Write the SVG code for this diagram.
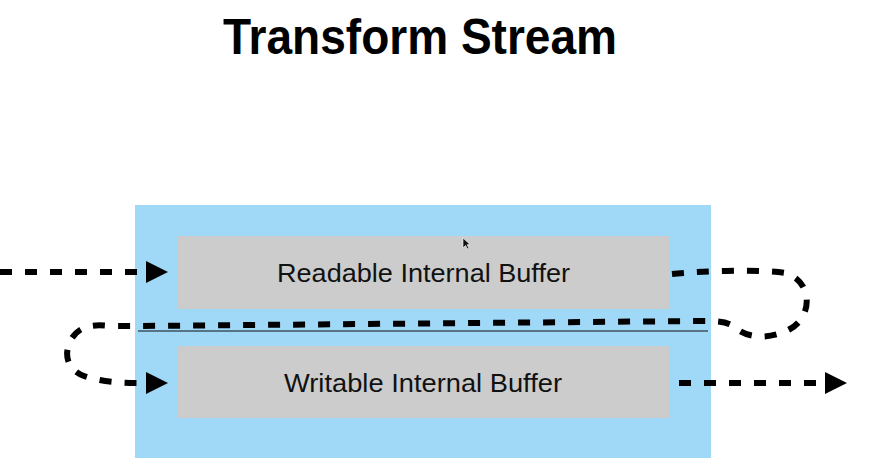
<svg xmlns="http://www.w3.org/2000/svg" width="876" height="472" viewBox="0 0 876 472">
<defs>
<style>
.title{font-family:"Liberation Sans",Arial,sans-serif;font-weight:bold;font-size:50px;fill:#000}
.lbl{font-family:"Liberation Sans",Arial,sans-serif;font-size:26px;fill:#111}
.buf{fill:#cccccc}
.dash{fill:none;stroke:#000;stroke-width:6;stroke-dasharray:12 13}
</style>
</defs>
<rect width="876" height="472" fill="#fff"/>
<text class="title" x="223" y="54" textLength="394" lengthAdjust="spacingAndGlyphs">Transform Stream</text>
<g id="transform">
<rect x="135" y="205" width="576" height="253" fill="#a0d8f8"/>
<line x1="138" y1="331" x2="708" y2="331" stroke="#111" stroke-width="1.2"/>
</g>
<g id="readable">
<rect class="buf" x="178" y="236" width="491" height="73"/>
<text class="lbl" x="277" y="282" textLength="293" lengthAdjust="spacingAndGlyphs">Readable Internal Buffer</text>
</g>
<g id="writable">
<rect class="buf" x="178" y="346" width="491" height="72"/>
<text class="lbl" x="284" y="392" textLength="278" lengthAdjust="spacingAndGlyphs">Writable Internal Buffer</text>
</g>
<g id="connectors">
<path class="dash" d="M0 272 L140 272" />
<polygon points="146,261 168,272 146,283" fill="#000"/>
<path class="dash" d="M672 274 C700 271 760 269 785 273 C812 280 814 316 790 329 C770 340 748 338 737 329 C729 322 722 321 700 321 L140 326 L110 326 C92 324 80 326 72 338 C62 355 68 370 84 376 C98 381 118 383 140 383"/>
<polygon points="146,372 168,383 146,394" fill="#000"/>
<path class="dash" d="M679 383 L818 383"/>
<polygon points="825,372 847,383 825,394" fill="#000"/>
</g>
<polygon points="463,238 463,248 465.5,245.5 467.5,249 469,248.3 467,244.8 470,244.5" fill="#111" stroke="#fff" stroke-width="0.6"/>
</svg>
